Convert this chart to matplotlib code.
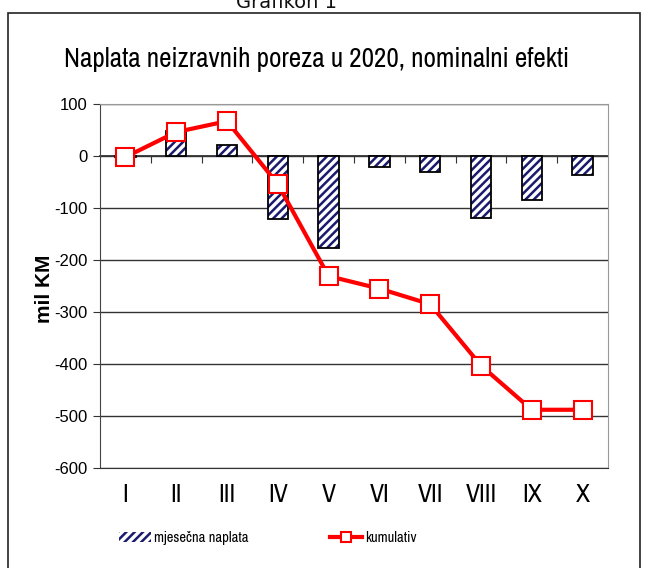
import matplotlib.pyplot as plt
from matplotlib.patches import Rectangle

months = ["I", "II", "III", "IV", "V", "VI", "VII", "VIII", "IX", "X"]
monthly = [-2, 48, 21, -121, -177, -21, -31, -119, -85, -37]
cumulative = [-2, 46, 67, -54, -231, -255, -285, -403, -488, -488]
yticks = [100, 0, -100, -200, -300, -400, -500, -600]

narrow = ["Archivo Narrow", "PT Sans Narrow", "Liberation Sans", "DejaVu Sans"]
plt.rcParams['font.family'] = ["Liberation Sans", "DejaVu Sans"]
plt.rcParams['hatch.linewidth'] = 1.8

fig = plt.figure(figsize=(6.48, 5.68), dpi=100)

# outer frame and figure caption
fig.patches.append(Rectangle((8 / 648, -0.1), 632 / 648, 1.1 - 13 / 568, transform=fig.transFigure,
                             fill=False, edgecolor='#222222', linewidth=1.2))
fig.text(287 / 648, 1.0 - 2 / 568, "Grafikon 1", ha='center', va='center', fontsize=14,
         family="DejaVu Sans", color='#111111')
fig.text(317 / 648, 1 - 60 / 568, "Naplata neizravnih poreza u 2020, nominalni efekti",
         ha='center', va='center', fontsize=19.5, family=narrow, color='black')

ax = fig.add_axes([100 / 648, 1 - 468 / 568, 508 / 648, 364 / 568])
x = list(range(len(months)))

# hatched bars: hatch in navy, outline in black
bars = ax.bar(x, monthly, width=0.4, color='white', edgecolor='#1a1a6e', hatch='////',
              linewidth=0, zorder=2, label='mjesečna naplata')
ax.bar(x, monthly, width=0.4, fill=False, edgecolor='black', linewidth=1.3, zorder=2.1)

ax.plot(x, cumulative, color='#ff0000', linewidth=3, marker='s', markersize=13,
        markerfacecolor='white', markeredgecolor='#ff0000', markeredgewidth=1.5,
        zorder=3, label='kumulativ')

ax.set_xlim(-0.5, len(months) - 0.5)
ax.set_ylim(-600, 100)
ax.set_yticks(yticks)
ax.set_yticklabels([str(v) for v in yticks], fontsize=12)
ax.grid(axis='y', color='#333333', linewidth=1, zorder=0)
ax.set_axisbelow(True)

ax.set_xticks(x)
ax.set_xticklabels(months, fontsize=18.5, family=narrow)
ax.tick_params(axis='x', length=0, pad=11)
ax.tick_params(axis='y', direction='out', length=5, color='#333333', pad=4)

for side in ['top', 'right']:
    ax.spines[side].set_color('#999999')
ax.spines['left'].set_color('#444444')
ax.spines['bottom'].set_color('#333333')

# zero line with category separators
zero = ax.secondary_xaxis(0, transform=ax.transData)
zero.set_xticks([i + 0.5 for i in x[:-1]])
zero.tick_params(direction='out', length=5, labelbottom=False, color='#333333')
zero.spines['bottom'].set_color('#222222')
zero.spines['bottom'].set_linewidth(1.2)

fig.text(45 / 648, 1 - 289 / 568, "mil KM", rotation=90, ha='center', va='center',
         fontsize=15, fontweight='bold')

fig.legend(handles=[bars, ax.lines[0]], labels=['mjesečna naplata', 'kumulativ'],
           loc='center', bbox_to_anchor=(268 / 648, 1 - 538 / 568), ncol=2, frameon=False,
           prop={'family': narrow, 'size': 10.5}, columnspacing=5.6, handlelength=2.2,
           handletextpad=0.2, markerscale=0.6)

fig.savefig("out.png", dpi=100)
